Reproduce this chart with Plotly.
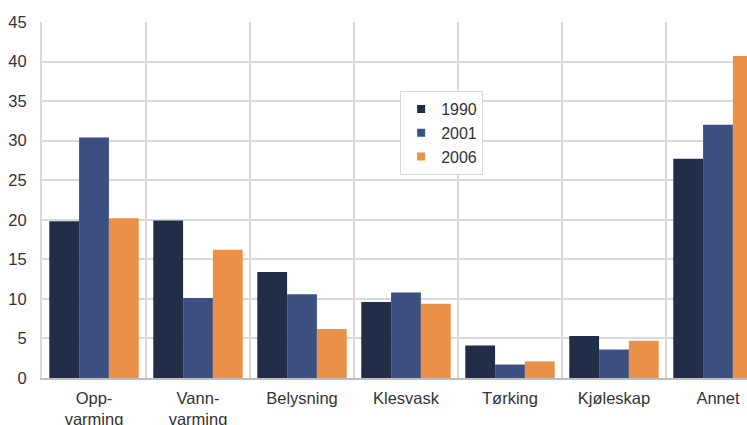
import plotly.graph_objects as go

categories = ["Opp-<br>varming", "Vann-<br>varming", "Belysning", "Klesvask", "Tørking", "Kjøleskap", "Annet"]
years = ["1990", "2001", "2006"]
v1990 = [19.8, 19.9, 13.4, 9.6, 4.1, 5.3, 27.7]
v2001 = [30.4, 10.1, 10.6, 10.8, 1.7, 3.6, 32.0]
v2006 = [20.2, 16.2, 6.2, 9.4, 2.1, 4.7, 40.7]
colors = ["#222d47", "#3b4f80", "#eb9147"]
y_ticks = [0, 5, 10, 15, 20, 25, 30, 35, 40, 45]

fig = go.Figure()
for name, vals, col in zip(years, [v1990, v2001, v2006], colors):
    fig.add_trace(go.Bar(x=categories, y=vals, name=name, marker_color=col,
                         marker_line_width=0, showlegend=False))
    fig.add_trace(go.Scatter(x=[None], y=[None], mode="markers", name=name,
                             marker=dict(symbol="square", size=8, color=col)))

font = dict(family="Liberation Sans, Arial, sans-serif", size=16.5, color="#333333")
fig.update_layout(
    width=747, height=425,
    margin=dict(l=42, r=0, t=22, b=47, autoexpand=False),
    paper_bgcolor="white", plot_bgcolor="white",
    barmode="group", bargap=0.14, bargroupgap=0,
    font=font,
    showlegend=True,
    legend=dict(x=0.508, y=0.806, xanchor="left", yanchor="top",
                bgcolor="white", bordercolor="#d9d9d9", borderwidth=1,
                font=dict(family="Liberation Sans, Arial, sans-serif", size=16, color="#333333"),
                tracegroupgap=0, itemwidth=30),
    xaxis=dict(type="category", range=[-0.5, 6.279], tickson="boundaries",
               showgrid=True, gridcolor="#d9d9d9", gridwidth=2,
               showline=True, linecolor="#bdbdbd", linewidth=2,
               ticks="", ticklabelstandoff=4, automargin=False, fixedrange=True),
    yaxis=dict(range=[0, 45], tickvals=y_ticks, showgrid=True,
               gridcolor="#d9d9d9", gridwidth=2, zeroline=False,
               showline=True, linecolor="#d9d9d9", linewidth=2,
               ticks="", ticklabelstandoff=10, automargin=False, fixedrange=True),
)
fig.write_html("out.html", config={"displayModeBar": False},
               post_script="document.body.style.margin='0';document.body.style.overflow='hidden';")
